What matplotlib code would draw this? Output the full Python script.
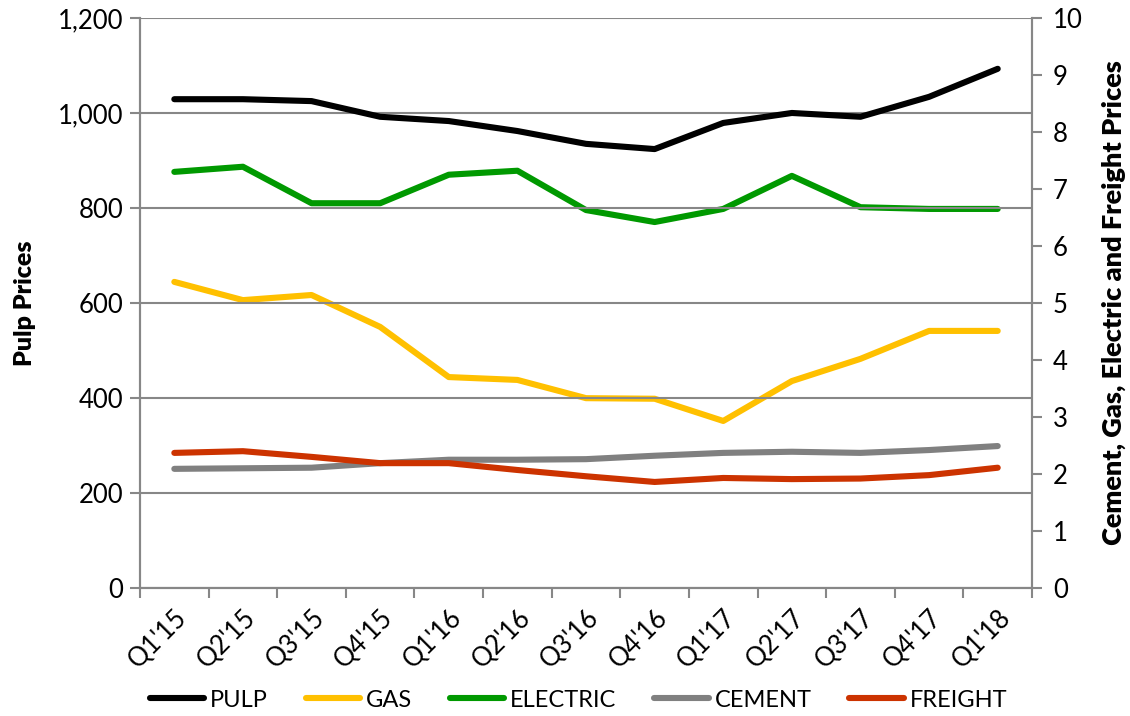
import matplotlib
matplotlib.use("Agg")
import matplotlib.pyplot as plt
from matplotlib.ticker import FuncFormatter, FixedLocator

plt.rcParams['font.family'] = ['Lato', 'DejaVu Sans']

quarters = ["Q1'15", "Q2'15", "Q3'15", "Q4'15", "Q1'16", "Q2'16", "Q3'16",
            "Q4'16", "Q1'17", "Q2'17", "Q3'17", "Q4'17", "Q1'18"]
pulp = [1029, 1029, 1025, 992, 983, 962, 935, 924, 979, 1000, 992, 1034, 1093]
gas = [5.37, 5.05, 5.14, 4.58, 3.70, 3.65, 3.33, 3.32, 2.93, 3.63, 4.02, 4.51, 4.51]
electric = [7.30, 7.39, 6.75, 6.75, 7.25, 7.32, 6.63, 6.42, 6.65, 7.23, 6.68, 6.65, 6.65]
cement = [2.09, 2.10, 2.11, 2.19, 2.25, 2.25, 2.26, 2.32, 2.37, 2.39, 2.37, 2.42, 2.49]
freight = [2.37, 2.40, 2.30, 2.19, 2.19, 2.07, 1.96, 1.86, 1.93, 1.91, 1.92, 1.98, 2.11]

GRAY = '#878787'
fig = plt.figure(figsize=(11.3, 7.16), dpi=100)
ax = fig.add_axes([0.1239, 0.1788, 0.7894, 0.7961])
ax2 = ax.twinx()

x = list(range(len(quarters)))
lw = 4.4
kw = dict(lw=lw, solid_capstyle='round', solid_joinstyle='round')
l_pulp, = ax.plot(x, pulp, color='black', label='PULP', zorder=5, **kw)
l_gas, = ax2.plot(x, gas, color='#FFC000', label='GAS', **kw)
l_el, = ax2.plot(x, electric, color='#009900', label='ELECTRIC', **kw)
l_cem, = ax2.plot(x, cement, color='#808080', label='CEMENT', **kw)
l_fr, = ax2.plot(x, freight, color='#CC3300', label='FREIGHT', **kw)
ax.set_zorder(ax2.get_zorder() + 1)
ax.patch.set_visible(False)

ax.set_xlim(-0.5, len(quarters) - 0.5)
ax.set_ylim(0, 1200)
ax2.set_ylim(0, 10)
ax.set_yticks(range(0, 1201, 200))
ax.yaxis.set_major_formatter(FuncFormatter(lambda v, p: f"{int(v):,}"))
ax2.set_yticks(range(0, 11))

ax.set_xticks(x)
ax.set_xticklabels(quarters, rotation=45, ha='right', rotation_mode='anchor')
ax.xaxis.set_minor_locator(FixedLocator([i - 0.5 for i in range(len(quarters) + 1)]))
ax.tick_params(axis='x', which='major', length=0, pad=12, labelsize=18.5)
ax.tick_params(axis='x', which='minor', length=7, width=1.5, color=GRAY, direction='out')
ax.tick_params(axis='y', length=7, width=1.5, color=GRAY, labelsize=18.5, pad=5)
ax2.tick_params(axis='y', length=7, width=1.5, color=GRAY, labelsize=18.5, pad=8)

ax.grid(axis='y', color=GRAY, lw=1.5)
ax.set_axisbelow(True)
for a in (ax, ax2):
    a.spines['top'].set_visible(False)
    for s in ('left', 'right', 'bottom'):
        a.spines[s].set_color(GRAY)
        a.spines[s].set_linewidth(1.5)

ax.set_ylabel('Pulp Prices', fontsize=18, fontweight='heavy', labelpad=16)
ax2.set_ylabel('Cement, Gas, Electric and Freight Prices', fontsize=19.5,
               fontweight='heavy', labelpad=14)

fig.legend(handles=[l_pulp, l_gas, l_el, l_cem, l_fr], loc='center',
           bbox_to_anchor=(0.512, 0.022), ncol=5, frameon=False, fontsize=17,
           handlelength=2.3, handletextpad=0.25, columnspacing=1.6)

fig.savefig('out.png', dpi=100)
